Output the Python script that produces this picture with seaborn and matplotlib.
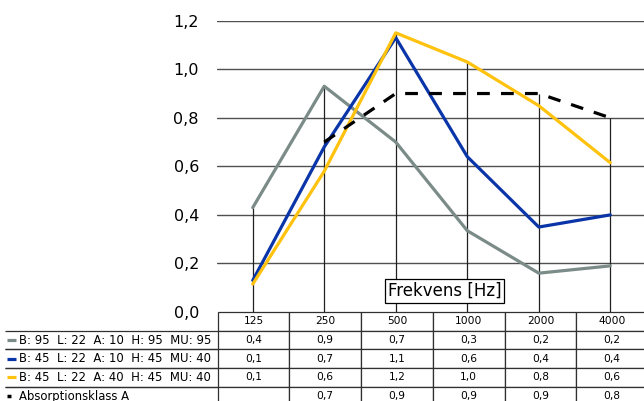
import numpy as np
import pandas as pd
import seaborn as sns
import matplotlib.pyplot as plt
from matplotlib.lines import Line2D

# frequencies and absorption values
freqs = ["125", "250", "500", "1000", "2000", "4000"]
gray_vals = [0.43, 0.93, 0.70, 0.335, 0.16, 0.19]
blue_vals = [0.13, 0.68, 1.13, 0.64, 0.35, 0.40]
yellow_vals = [0.115, 0.58, 1.15, 1.03, 0.85, 0.615]
klass_a = [np.nan, 0.70, 0.90, 0.90, 0.90, 0.80]

labels = ["B: 95  L: 22  A: 10  H: 95  MU: 95",
          "B: 45  L: 22  A: 10  H: 45  MU: 40",
          "B: 45  L: 22  A: 40  H: 45  MU: 40",
          "Absorptionsklass A"]
table_vals = [["0,4", "0,9", "0,7", "0,3", "0,2", "0,2"],
              ["0,1", "0,7", "1,1", "0,6", "0,4", "0,4"],
              ["0,1", "0,6", "1,2", "1,0", "0,8", "0,6"],
              ["", "0,7", "0,9", "0,9", "0,9", "0,8"]]
yticks = [0.0, 0.2, 0.4, 0.6, 0.8, 1.0, 1.2]

colors = ["#7b8b88", "#0a35a8", "#ffc20e", "black"]
series = [gray_vals, blue_vals, yellow_vals, klass_a]

sns.set_style("white")
plt.rcParams["font.family"] = ["DejaVu Sans"]
plt.rcParams["text.color"] = "black"
plt.rcParams["ytick.labelcolor"] = "black"

fig = plt.figure(figsize=(6.44, 4.01), dpi=100)
ax = fig.add_axes([217 / 644, 89 / 401, 429 / 644, 291.3 / 401])

x = np.arange(len(freqs))

# horizontal grid
for v in yticks[1:]:
    ax.axhline(v, color="#505050", lw=1.0, zorder=1)

# drop lines from the highest point at each frequency
tops = np.nanmax(np.array(series, dtype=float), axis=0)
ax.vlines(x, 0, tops, color="#202020", lw=0.9, zorder=1)

for vals, c in zip(series[:3], colors[:3]):
    sns.lineplot(x=x, y=vals, ax=ax, color=c, lw=2.3, zorder=3)
sns.lineplot(x=x, y=klass_a, ax=ax, color="black", lw=2.3, zorder=4,
             linestyle=(0, (4, 3.5)))

ax.set_xlim(-0.5, len(freqs) - 0.5)
ax.set_ylim(0, 1.2)
ax.set_xticks([])
ax.set_yticks(yticks)
ax.set_yticklabels([f"{v:.1f}".replace(".", ",") for v in yticks], fontsize=11.5)
ax.tick_params(axis="y", length=0, pad=13, labelcolor="black")
for s in ax.spines.values():
    s.set_visible(False)

ax.text(0.53, 0.072, "Frekvens [Hz]", transform=ax.transAxes, fontsize=12,
        ha="center", va="center", zorder=6, color="black",
        bbox=dict(boxstyle="square,pad=0.18", fc="white", ec="black", lw=0.9))

# data table under the chart
cell_text = [[""] + freqs] + [[lab] + row for lab, row in zip(labels, table_vals)]
lab_w = 212 / 429
col_w = 1.0 / len(freqs)
bbox_h = 5 * 18.7 / 291.3
tab = ax.table(cellText=cell_text, colWidths=[lab_w] + [col_w] * len(freqs),
               cellLoc="center", bbox=[-lab_w, -bbox_h, lab_w + 1.0 + 2 / 429, bbox_h])
tab.auto_set_font_size(False)
tab.set_fontsize(7.7)
for (r, c), cell in tab.get_celld().items():
    cell.set_edgecolor("#303030")
    cell.set_linewidth(0.9)
    cell.get_text().set_color("black")
    if c == 0:
        if r == 0:
            cell.visible_edges = ""
        else:
            cell.visible_edges = "BT"
            cell.get_text().set_ha("left")
            cell.get_text().set_fontsize(8.4)
            cell.PAD = 0.066

# legend swatches next to row labels
row_h = 18.7 / 291.3
x0 = -lab_w + 2 / 429
for i, c in enumerate(colors):
    yc = -row_h * (i + 1.5)
    if i < 3:
        ax.add_line(Line2D([x0, x0 + 9 / 429], [yc, yc], transform=ax.transAxes,
                           color=c, lw=2.3, clip_on=False, solid_capstyle="butt"))
    else:
        ax.add_line(Line2D([x0, x0 + 3.5 / 429], [yc, yc], transform=ax.transAxes,
                           color=c, lw=2.5, clip_on=False, solid_capstyle="butt"))

fig.savefig("out.png", dpi=100)
